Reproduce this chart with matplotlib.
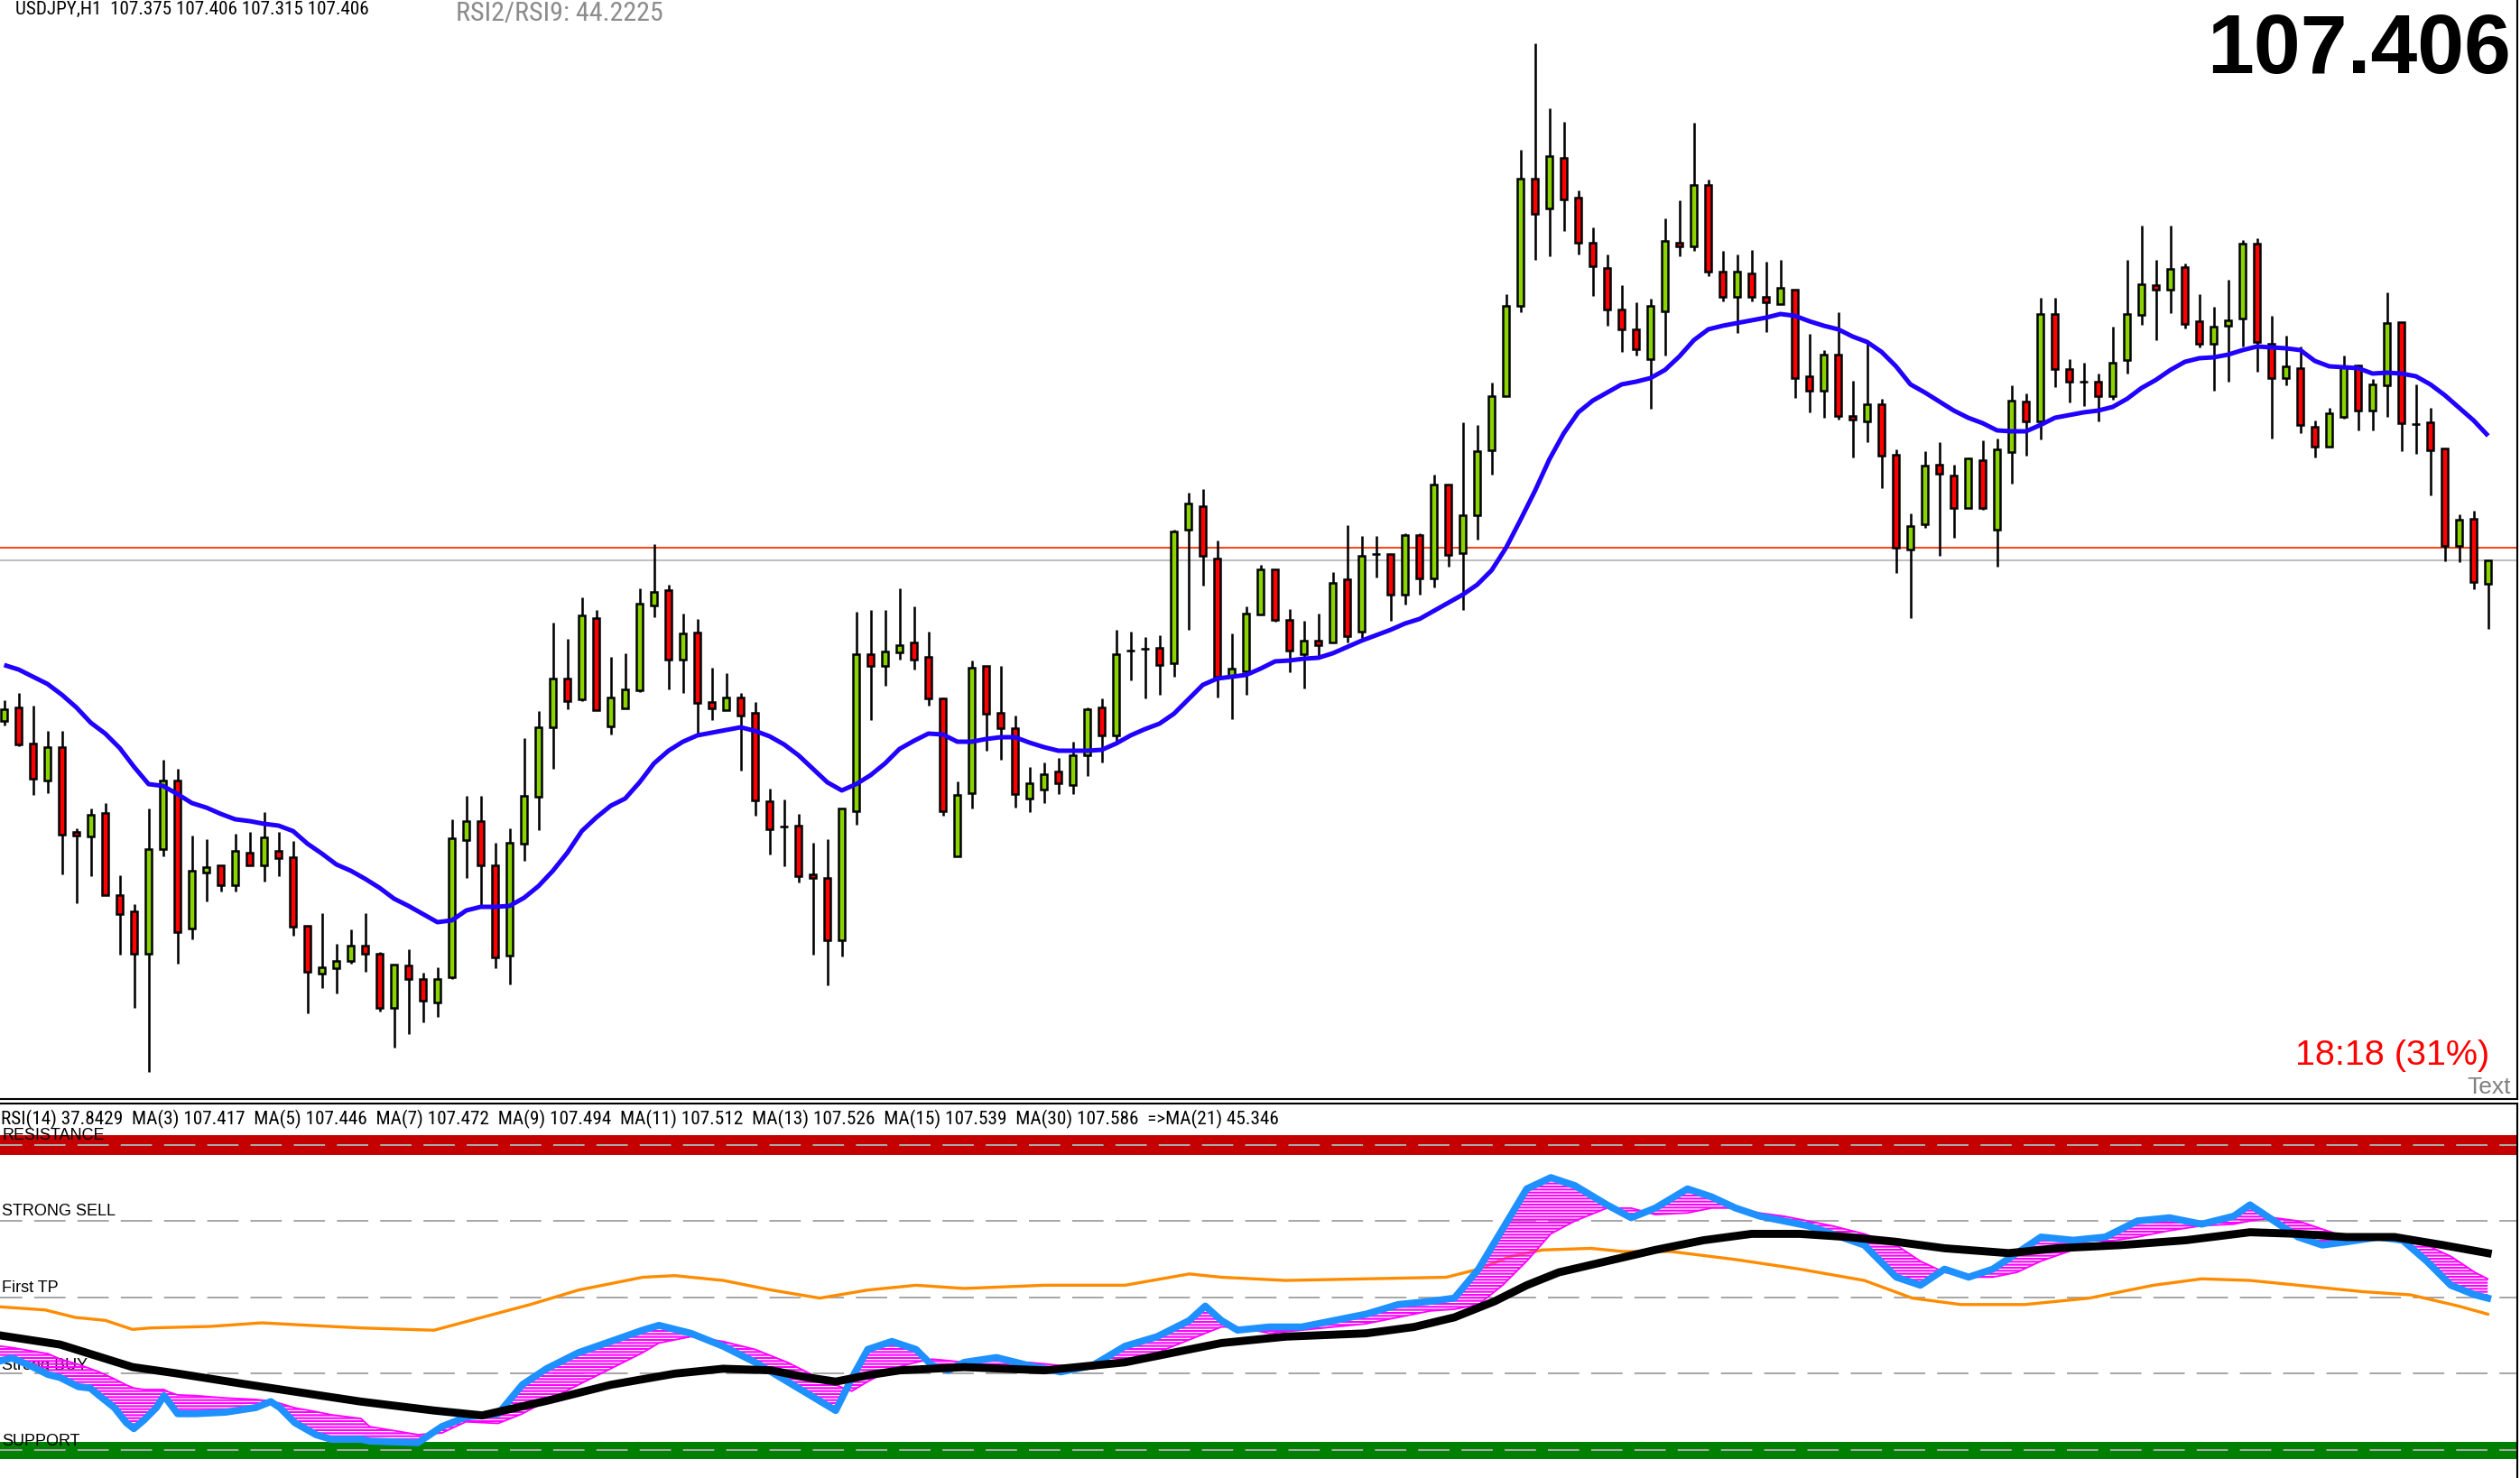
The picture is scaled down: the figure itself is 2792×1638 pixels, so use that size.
import numpy as np
import matplotlib
matplotlib.use("Agg")
import matplotlib.pyplot as plt
from matplotlib import font_manager

plt.rcParams['lines.scale_dashes'] = False
plt.rcParams['hatch.linewidth'] = 1.5

W, H, DPI = 2792, 1638, 100

# ------------------------------------------------------------------ data
opens = [
    107.228, 107.243, 107.203, 107.162, 107.199, 107.105, 107.100, 107.126, 107.035, 107.017,
    106.970, 107.086, 107.162, 106.998, 107.060, 107.068, 107.046, 107.082, 107.068, 107.084,
    107.077, 107.001, 106.948, 106.954, 106.962, 106.979, 106.970, 106.910, 106.957, 106.942,
    106.916, 106.944, 107.096, 107.117, 107.068, 106.968, 107.092, 107.144, 107.221, 107.275,
    107.252, 107.342, 107.222, 107.242, 107.262, 107.356, 107.373, 107.296, 107.326, 107.249,
    107.240, 107.254, 107.237, 107.139, 107.111, 107.112, 107.058, 107.054, 106.985, 107.128,
    107.302, 107.289, 107.304, 107.315, 107.299, 107.253, 107.078, 107.148, 107.289, 107.237,
    107.220, 107.142, 107.152, 107.172, 107.157, 107.190, 107.243, 107.212, 107.306, 107.308,
    107.309, 107.292, 107.440, 107.466, 107.408, 107.277, 107.283, 107.346, 107.396, 107.340,
    107.302, 107.317, 107.315, 107.385, 107.327, 107.413, 107.413, 107.368, 107.434, 107.386,
    107.490, 107.414, 107.456, 107.528, 107.588, 107.688, 107.829, 107.796, 107.852, 107.808,
    107.758, 107.730, 107.684, 107.662, 107.629, 107.682, 107.758, 107.754, 107.822, 107.726,
    107.698, 107.724, 107.698, 107.690, 107.706, 107.610, 107.594, 107.634, 107.566, 107.560,
    107.579, 107.523, 107.418, 107.446, 107.512, 107.500, 107.464, 107.517, 107.440, 107.526,
    107.582, 107.560, 107.679, 107.618, 107.604, 107.604, 107.588, 107.628, 107.678, 107.711,
    107.706, 107.731, 107.671, 107.646, 107.666, 107.674, 107.757, 107.646, 107.608, 107.619,
    107.554, 107.532, 107.565, 107.622, 107.572, 107.600, 107.670, 107.557, 107.559, 107.530,
    107.422, 107.452, 107.380]
highs = [
    107.251, 107.259, 107.245, 107.217, 107.217, 107.109, 107.131, 107.137, 107.057, 107.025,
    107.131, 107.185, 107.175, 107.101, 107.097, 107.068, 107.103, 107.105, 107.127, 107.105,
    107.095, 107.001, 107.015, 106.981, 106.997, 107.015, 106.972, 106.958, 106.975, 106.949,
    106.955, 107.119, 107.145, 107.145, 107.093, 107.109, 107.209, 107.239, 107.337, 107.319,
    107.365, 107.351, 107.299, 107.303, 107.375, 107.424, 107.379, 107.347, 107.341, 107.287,
    107.281, 107.259, 107.249, 107.153, 107.141, 107.125, 107.093, 107.097, 107.131, 107.349,
    107.351, 107.351, 107.375, 107.355, 107.327, 107.254, 107.161, 107.295, 107.289, 107.289,
    107.234, 107.177, 107.182, 107.187, 107.205, 107.243, 107.253, 107.329, 107.327, 107.321,
    107.323, 107.440, 107.481, 107.485, 107.428, 107.325, 107.355, 107.401, 107.396, 107.352,
    107.339, 107.347, 107.393, 107.445, 107.433, 107.433, 107.413, 107.436, 107.436, 107.501,
    107.490, 107.559, 107.556, 107.603, 107.701, 107.861, 107.979, 107.907, 107.892, 107.816,
    107.775, 107.745, 107.711, 107.692, 107.696, 107.785, 107.805, 107.891, 107.828, 107.749,
    107.745, 107.750, 107.737, 107.739, 107.706, 107.657, 107.639, 107.681, 107.605, 107.648,
    107.585, 107.529, 107.458, 107.527, 107.537, 107.512, 107.520, 107.539, 107.541, 107.600,
    107.591, 107.697, 107.697, 107.629, 107.625, 107.613, 107.665, 107.739, 107.777, 107.739,
    107.777, 107.735, 107.701, 107.687, 107.717, 107.761, 107.763, 107.677, 107.655, 107.643,
    107.561, 107.575, 107.633, 107.623, 107.607, 107.703, 107.670, 107.601, 107.575, 107.530,
    107.457, 107.461, 107.406]
lows = [
    107.223, 107.200, 107.146, 107.148, 107.058, 107.026, 107.056, 107.035, 106.969, 106.910,
    106.839, 107.078, 106.959, 106.986, 107.028, 107.039, 107.039, 107.068, 107.050, 107.056,
    106.990, 106.904, 106.932, 106.926, 106.959, 106.950, 106.906, 106.866, 106.881, 106.894,
    106.900, 106.942, 107.054, 107.024, 106.954, 106.936, 107.073, 107.107, 107.175, 107.241,
    107.250, 107.240, 107.213, 107.242, 107.260, 107.343, 107.263, 107.259, 107.213, 107.229,
    107.240, 107.173, 107.123, 107.080, 107.067, 107.049, 106.969, 106.935, 106.967, 107.113,
    107.229, 107.267, 107.296, 107.285, 107.245, 107.123, 107.078, 107.131, 107.195, 107.185,
    107.132, 107.127, 107.137, 107.147, 107.147, 107.167, 107.182, 107.205, 107.273, 107.253,
    107.257, 107.277, 107.329, 107.378, 107.254, 107.230, 107.257, 107.346, 107.338, 107.282,
    107.264, 107.297, 107.315, 107.315, 107.320, 107.387, 107.339, 107.357, 107.368, 107.376,
    107.399, 107.351, 107.429, 107.501, 107.588, 107.681, 107.739, 107.743, 107.771, 107.745,
    107.699, 107.666, 107.637, 107.633, 107.574, 107.633, 107.743, 107.749, 107.721, 107.693,
    107.658, 107.693, 107.659, 107.690, 107.586, 107.570, 107.564, 107.562, 107.520, 107.537,
    107.486, 107.392, 107.342, 107.442, 107.411, 107.431, 107.464, 107.462, 107.399, 107.491,
    107.522, 107.540, 107.598, 107.581, 107.577, 107.560, 107.584, 107.613, 107.667, 107.650,
    107.680, 107.663, 107.642, 107.594, 107.604, 107.643, 107.615, 107.541, 107.600, 107.547,
    107.520, 107.532, 107.563, 107.550, 107.550, 107.565, 107.527, 107.524, 107.478, 107.405,
    107.404, 107.374, 107.330]
closes = [
    107.241, 107.202, 107.164, 107.199, 107.102, 107.101, 107.124, 107.035, 107.014, 106.970,
    107.086, 107.162, 106.994, 107.062, 107.066, 107.046, 107.084, 107.068, 107.099, 107.076,
    107.000, 106.950, 106.955, 106.962, 106.979, 106.970, 106.910, 106.958, 106.942, 106.918,
    106.942, 107.098, 107.117, 107.068, 106.966, 107.093, 107.145, 107.221, 107.275, 107.250,
    107.345, 107.240, 107.254, 107.263, 107.358, 107.371, 107.296, 107.325, 107.248, 107.242,
    107.254, 107.234, 107.140, 107.108, 107.111, 107.056, 107.054, 106.985, 107.131, 107.302,
    107.289, 107.305, 107.312, 107.296, 107.253, 107.128, 107.146, 107.287, 107.236, 107.220,
    107.147, 107.159, 107.169, 107.159, 107.190, 107.241, 107.212, 107.302, 107.306, 107.308,
    107.290, 107.438, 107.469, 107.411, 107.277, 107.286, 107.347, 107.396, 107.340, 107.306,
    107.317, 107.312, 107.381, 107.322, 107.411, 107.413, 107.368, 107.434, 107.386, 107.490,
    107.412, 107.456, 107.527, 107.588, 107.688, 107.829, 107.790, 107.854, 107.806, 107.758,
    107.732, 107.684, 107.662, 107.640, 107.688, 107.760, 107.754, 107.822, 107.726, 107.698,
    107.726, 107.698, 107.692, 107.708, 107.608, 107.594, 107.634, 107.566, 107.562, 107.579,
    107.522, 107.420, 107.444, 107.511, 107.502, 107.464, 107.519, 107.464, 107.529, 107.583,
    107.560, 107.679, 107.618, 107.604, 107.604, 107.588, 107.625, 107.679, 107.712, 107.706,
    107.729, 107.668, 107.646, 107.665, 107.672, 107.757, 107.648, 107.608, 107.621, 107.556,
    107.532, 107.569, 107.621, 107.572, 107.601, 107.669, 107.558, 107.557, 107.528, 107.422,
    107.451, 107.382, 107.406]
ma_line = [
    107.290, 107.285, 107.277, 107.269, 107.257, 107.243, 107.226, 107.214, 107.198, 107.177,
    107.158, 107.156, 107.147, 107.137, 107.132, 107.125, 107.119, 107.117, 107.114, 107.112,
    107.106, 107.092, 107.081, 107.069, 107.062, 107.053, 107.043, 107.031, 107.023, 107.014,
    107.005, 107.007, 107.018, 107.022, 107.022, 107.023, 107.032, 107.045, 107.062, 107.082,
    107.106, 107.121, 107.134, 107.142, 107.160, 107.181, 107.195, 107.205, 107.212, 107.215,
    107.218, 107.221, 107.217, 107.211, 107.202, 107.190, 107.175, 107.160, 107.151, 107.158,
    107.168, 107.181, 107.197, 107.206, 107.214, 107.213, 107.205, 107.205, 107.208, 107.210,
    107.210, 107.204, 107.199, 107.195, 107.195, 107.195, 107.196, 107.203, 107.212, 107.219,
    107.225, 107.236, 107.252, 107.268, 107.275, 107.277, 107.279, 107.286, 107.294, 107.295,
    107.297, 107.298, 107.303, 107.310, 107.317, 107.323, 107.329, 107.336, 107.341, 107.350,
    107.359, 107.368, 107.379, 107.395, 107.420, 107.451, 107.483, 107.518, 107.547, 107.570,
    107.583, 107.592, 107.601, 107.604, 107.608, 107.617, 107.632, 107.650, 107.662, 107.666,
    107.669, 107.672, 107.675, 107.679, 107.677, 107.671, 107.666, 107.662, 107.654, 107.648,
    107.637, 107.621, 107.601, 107.592, 107.582, 107.572, 107.564, 107.558, 107.550, 107.549,
    107.549, 107.556, 107.564, 107.567, 107.570, 107.572, 107.576, 107.585, 107.597, 107.606,
    107.617, 107.626, 107.630, 107.631, 107.634, 107.639, 107.643, 107.642, 107.641, 107.639,
    107.627, 107.621, 107.620, 107.619, 107.613, 107.614, 107.613, 107.610, 107.601, 107.589,
    107.575, 107.561, 107.544]
ask_price = 107.420
bid_price = 107.406

header_text = "USDJPY,H1  107.375 107.406 107.315 107.406"
rsi_ratio_text = "RSI2/RSI9: 44.2225"
big_price_text = "107.406"
timer_text = "18:18 (31%)"
corner_text = "Text"
sub_header_text = ("RSI(14) 37.8429  MA(3) 107.417  MA(5) 107.446  MA(7) 107.472  "
                   "MA(9) 107.494  MA(11) 107.512  MA(13) 107.526  MA(15) 107.539  "
                   "MA(30) 107.586  =>MA(21) 45.346")

level_values = [60, 50, 40, 30, 20]
level_labels = ["RESISTANCE", "STRONG SELL", "First TP", "Strong BUY", "SUPPORT"]
resistance_level = 60
support_level = 20

# oscillator (lower panel) samples: x = bar index, value = indicator level
osc_x = [-0.29, 0.54, 1.79, 3.04, 3.88, 5.13, 5.96, 6.59, 7.63, 8.46, 8.98, 9.71, 10.54, 11.07,
         11.38, 12.01, 13.26, 15.34, 17.42, 18.46, 19.09, 20.13, 21.59, 22.63, 24.71,
         25.31, 28.65, 30.31, 31.98, 34.21, 35.88, 37.55, 39.77, 42.00, 44.22,
         45.34, 47.56, 49.79, 52.01, 54.24, 56.47, 57.58, 58.69, 59.80, 61.47,
         63.14, 64.25, 65.37, 66.48, 68.71, 70.93, 73.16, 75.38, 77.61, 79.84,
         82.06, 83.17, 84.29, 85.40, 87.62, 89.85, 92.08, 94.30, 96.53, 98.75,
         100.42, 102.09, 103.76, 105.43, 107.10, 108.77, 110.99, 112.66, 114.33, 116.56,
         118.23, 119.90, 121.56, 123.23, 124.90, 126.57, 128.80, 131.02, 132.69, 134.36,
         136.03, 137.70, 139.37, 141.04, 143.26, 145.49, 147.72, 149.94, 152.17, 154.39,
         155.51, 157.18, 158.85, 160.51, 162.18, 164.41, 166.08, 167.75, 169.42, 171.09, 171.97]
rsi_blue = [31.64, 32.04, 31.05, 29.87, 29.47, 28.28, 28.09, 27.10, 25.53, 23.55, 22.77, 23.95, 25.53,
            27.10, 26.32, 24.73, 24.73, 24.93, 25.53, 26.32, 25.53, 23.55, 21.98, 21.38, 21.38,
            21.14, 20.93, 23.04, 24.30, 24.72, 28.53, 30.63, 32.74, 34.21, 35.69,
            36.32, 35.27, 33.58, 31.47, 28.94, 26.41, 25.15, 29.36, 33.16, 34.21,
            33.16, 31.06, 30.42, 31.47, 32.10, 31.06, 30.21, 31.06, 33.58, 34.84,
            36.95, 38.85, 36.95, 35.69, 36.11, 36.11, 36.95, 37.79, 39.05, 39.47,
            39.89, 43.69, 48.95, 54.22, 55.70, 54.64, 52.12, 50.43, 51.70, 54.22,
            53.17, 51.70, 50.64, 50.01, 49.38, 48.32, 46.85, 42.64, 41.58, 43.69,
            42.64, 43.69, 45.79, 47.90, 47.48, 47.90, 50.01, 50.43, 49.59, 50.64,
            52.12, 50.01, 47.90, 46.85, 47.27, 47.90, 47.48, 44.74, 41.58, 40.32, 39.89]
fan_outer = [33.6, 33.4, 33.0, 32.6, 31.9, 31.2, 30.65, 30.2, 29.3, 28.5, 28.1, 27.9, 27.9,
             27.9, 27.6, 27.2, 27.1, 26.8, 26.6, 26.4, 26.1, 25.5, 25.0, 24.6, 24.1,
             23.04, 21.99, 22.20, 23.67, 23.46, 24.72, 26.41, 28.52, 30.63, 32.74,
             34.00, 34.84, 34.21, 33.16, 31.47, 29.36, 28.52, 27.68, 28.94, 30.63,
             31.47, 31.89, 31.70, 31.47, 31.06, 31.47, 31.06, 30.63, 31.47, 32.74,
             34.42, 35.27, 36.11, 36.11, 35.27, 35.69, 36.11, 36.53, 37.37, 38.21,
             38.43, 39.05, 41.58, 44.74, 48.32, 50.01, 51.70, 51.70, 50.85, 51.06,
             51.70, 51.70, 51.06, 50.64, 50.01, 49.38, 48.32, 46.85, 44.74, 43.27,
             42.64, 42.64, 43.27, 44.74, 46.21, 47.27, 47.90, 48.74, 49.38, 49.59,
             50.01, 50.43, 50.01, 48.95, 47.90, 47.69, 47.69, 46.85, 45.37, 43.27, 42.42]
ma21_x = [-0.29, 3.88, 8.88, 11.8, 16.4, 24.7, 29.76, 33.10, 37.55, 42.00, 46.45, 49.79, 53.13,
          55.35, 57.58, 59.80, 62.03, 66.48, 72.04, 77.61, 82.06, 84.29, 88.74, 94.30, 97.64,
          100.42, 103.20, 105.43, 107.65, 110.99, 114.33, 117.67, 121.01, 124.35, 127.68,
          131.02, 134.36, 138.81, 142.15, 146.60, 151.05, 155.51, 158.85, 162.18, 165.52,
          168.86, 171.97]
ma21_black = [35.0, 33.8, 30.85, 30.06, 28.69, 26.32, 25.15, 24.51, 26.41, 28.52, 29.99, 30.63,
              30.42, 29.57, 28.94, 29.78, 30.42, 30.84, 30.42, 31.47, 33.16, 34.00, 34.84, 35.27,
              36.11, 37.37, 39.47, 41.58, 43.27, 44.74, 46.21, 47.48, 48.32, 48.32, 47.90,
              47.27, 46.43, 45.79, 46.43, 46.85, 47.48, 48.53, 48.32, 47.90, 47.90, 46.85, 45.79]
rsi14_x = [-0.29, 2.84, 4.92, 7.01, 8.88, 10.13, 14.29, 17.84, 20.5, 24.7, 29.76, 33.10, 36.43,
           39.77, 44.22, 46.45, 49.79, 53.13, 56.47, 59.80, 63.14, 66.48, 72.04, 77.61, 82.06,
           84.29, 88.74, 94.30, 99.86, 102.09, 104.31, 106.54, 109.88, 112.10, 115.44, 119.90,
           124.35, 128.80, 132.13, 135.48, 139.92, 144.38, 148.83, 152.17, 155.51, 158.85,
           163.30, 166.63, 169.97, 171.97]
rsi14_orange = [38.75, 38.34, 37.36, 36.97, 35.79, 35.98, 36.18, 36.65, 36.38, 35.98, 35.68,
                37.37, 39.05, 40.95, 42.63, 42.84, 42.21, 40.95, 39.89, 40.95, 41.58, 41.16,
                41.58, 41.58, 43.06, 42.63, 42.21, 42.42, 42.63, 43.69, 45.37, 46.21, 46.42,
                46.00, 46.00, 44.95, 43.69, 42.21, 39.89, 39.05, 39.05, 39.89, 41.58, 42.42,
                42.21, 41.58, 40.74, 40.32, 38.84, 37.79]

# ------------------------------------------------------------------ fonts
avail = {f.name for f in font_manager.fontManager.ttflist}
narrow = next((nm for nm in ["Liberation Sans Narrow", "Roboto Condensed", "Open Sans Condensed",
                             "DejaVu Sans"] if nm in avail), "DejaVu Sans")
sans = "Liberation Sans" if "Liberation Sans" in avail else "DejaVu Sans"

GREEN = "#8ad200"
RED = "#ff0000"

fig = plt.figure(figsize=(W / DPI, H / DPI), dpi=DPI, facecolor="white")


def fx(px):
    return px / W


def fy(py):
    return 1 - py / H


MAIN_BOTTOM = 1218
SUB_TOP = 1223
RIGHT = 2789
XLIM = (-0.2875, 174.02)

ax1 = fig.add_axes([0, fy(MAIN_BOTTOM), fx(RIGHT), MAIN_BOTTOM / H])
ax2 = fig.add_axes([0, 0, fx(RIGHT), (H - SUB_TOP) / H])

for ax in (ax1, ax2):
    ax.set_xlim(*XLIM)
    ax.set_xticks([])
    ax.set_yticks([])
    ax.set_facecolor("white")
    for s in ax.spines.values():
        s.set_linewidth(1.5)
        s.set_color("black")
ax1.spines["top"].set_visible(False)
ax1.spines["left"].set_visible(False)
ax2.spines["left"].set_visible(False)
ax2.spines["bottom"].set_visible(False)

# ------------------------------------------------------------------ main chart
o = np.array(opens)
h = np.array(highs)
l = np.array(lows)
c = np.array(closes)
x = np.arange(len(o))
ax1.set_ylim(106.809, 108.027)

ax1.axhline(ask_price, color="#ff3000", lw=1.3, zorder=1)
ax1.axhline(bid_price, color="#c0c0c0", lw=1.5, zorder=1)

ax1.vlines(x, l, h, color="black", lw=1.85, zorder=2)
up = (c - o) > 0.0005
dn = (o - c) > 0.0005
dj = ~(up | dn)
bw = 0.41
ax1.bar(x[up], (c - o)[up], bottom=o[up], width=bw, color=GREEN, edgecolor="black",
        linewidth=1.8, zorder=3)
ax1.bar(x[dn], (o - c)[dn], bottom=c[dn], width=bw, color=RED, edgecolor="black",
        linewidth=1.8, zorder=3)
ax1.hlines(o[dj], x[dj] - 0.28, x[dj] + 0.28, color="black", lw=1.85, zorder=3)

ax1.plot(x, ma_line, color="#2000ff", lw=3.6, zorder=5, solid_capstyle="butt")

ax1.text(fx(2733), fy(1212), corner_text, transform=fig.transFigure, fontsize=19,
         color="#808080", ha="left", va="baseline", clip_on=True, family=sans, zorder=6)

# ------------------------------------------------------------------ lower panel
ax2.set_ylim(16.30, 65.41)
ax2.axhline(resistance_level, color="#c40000", lw=15.8, zorder=1)
ax2.axhline(support_level, color="#008000", lw=13.7, zorder=1)
for v in level_values:
    ax2.axhline(v, color="#a8a8a8", lw=1.45, linestyle=(7.2, (25.0, 9.5)), zorder=1.2)

label_pos = [(2, 1263), (2, 1347), (2, 1432), (2, 1518), (2, 1602)]
for lab, (px, py) in zip(level_labels, label_pos):
    ax2.text(fx(px), fy(py), lab, transform=fig.transFigure, ha="left", va="baseline",
             fontsize=13, color="black", family=sans, zorder=1.5)

ax2.plot(rsi14_x, rsi14_orange, color="#ff8c00", lw=2.4, zorder=2)
ax2.fill_between(osc_x, rsi_blue, fan_outer, facecolor="none", edgecolor="#ff00ff",
                 hatch="-----", linewidth=0, zorder=3)
ax2.plot(osc_x, fan_outer, color="#ff00ff", lw=1.3, zorder=3)
ax2.plot(osc_x, rsi_blue, color="#1e90ff", lw=5.6, zorder=4, solid_joinstyle="round")
ax2.plot(ma21_x, ma21_black, color="black", lw=6.4, zorder=5, solid_joinstyle="round")

# ------------------------------------------------------------------ texts
t_head = fig.text(fx(17), fy(1), header_text, ha="left", va="top", fontsize=14,
                  family=narrow, color="black")
t_rsi = fig.text(fx(505), fy(1), rsi_ratio_text, ha="left", va="top", fontsize=18,
                 family=narrow, color="#8c8c8c")
t_big = fig.text(fx(2782), fy(81), big_price_text, ha="right", va="baseline", fontsize=70,
                 fontweight="bold", family=sans, color="black")
t_timer = fig.text(fx(2758), fy(1180), timer_text, ha="right", va="baseline", fontsize=29,
                   family=sans, color="#ff0000")
t_sub = fig.text(fx(1), fy(1246.7), sub_header_text, ha="left", va="baseline", fontsize=14,
                 family=narrow, color="black")

fig.canvas.draw()
renderer = fig.canvas.get_renderer()


def fit(t, width_px):
    w = t.get_window_extent(renderer).width
    if w > 0:
        t.set_fontsize(t.get_fontsize() * width_px / w)


fit(t_head, 395)
fit(t_rsi, 230)
fit(t_big, 337)
fit(t_timer, 215)
fit(t_sub, 1421)

fig.savefig("out.png", dpi=DPI, facecolor="white")
